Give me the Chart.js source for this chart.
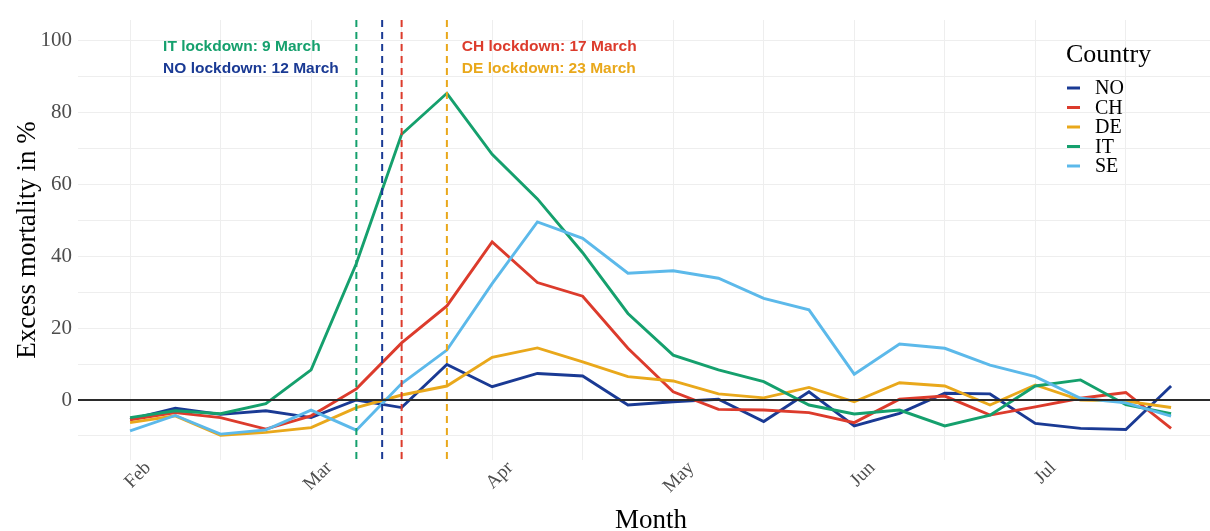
<!DOCTYPE html>
<html>
<head>
<meta charset="utf-8">
<script src="https://cdn.jsdelivr.net/npm/chart.js@4"></script>
<style>
  html, body { margin: 0; padding: 0; background: #fff; }
  #wrap { width: 1210px; height: 531px; position: relative; }
</style>
</head>
<body>
<div id="wrap"><canvas id="chart" width="1210" height="531"></canvas></div>
<script>
// week index since start of February (one point per week)
const weeks = [0, 1, 2, 3, 4, 5, 6, 7, 8, 9, 10, 11, 12, 13, 14, 15, 16, 17, 18, 19, 20, 21, 22, 23]

const noValues = [-5.4, -2.3, -4.0, -3.0, -4.9, 0.0, -2.1, 9.9, 3.7, 7.4, 6.7, -1.4, -0.5, 0.2, -6.0, 2.3, -7.2, -3.7, 1.9, 1.7, -6.5, -7.9, -8.2, 3.9]
const chValues = [-5.5, -3.5, -4.9, -8.1, -4.4, 3.1, 15.9, 26.2, 44.0, 32.7, 28.9, 14.4, 2.3, -2.6, -2.8, -3.5, -6.3, 0.2, 1.1, -4.2, -1.9, 0.5, 2.1, -7.9]
const deValues = [-6.3, -4.4, -9.8, -9.0, -7.7, -2.1, 1.4, 3.9, 11.9, 14.5, 10.6, 6.5, 5.3, 1.7, 0.6, 3.5, -0.5, 4.8, 3.9, -1.4, 4.2, 0.0, -0.3, -2.1]
const itValues = [-4.9, -3.0, -3.8, -1.0, 8.4, 38.0, 74.0, 85.4, 68.4, 56.0, 41.0, 24.1, 12.5, 8.4, 5.1, -1.4, -3.9, -2.8, -7.2, -4.2, 3.9, 5.6, -1.3, -3.8]
const seValues = [-8.6, -4.3, -9.5, -8.3, -2.8, -8.4, 4.6, 13.9, 32.4, 49.6, 45.0, 35.3, 36.0, 33.9, 28.3, 25.1, 7.2, 15.6, 14.4, 9.7, 6.5, 0.5, -0.8, -4.5]

const countries = ["NO", "CH", "DE", "IT", "SE"]
const countryColors = ["#1a3a94", "#dc3b2c", "#e9a81b", "#15a06d", "#5cb9ea"]

const monthTicks = [0, 4, 8, 12, 16, 20]
const monthNames = ["Feb", "Mar", "Apr", "May", "Jun", "Jul"]

// lockdown dates, in the same week units
const lockdownCountries = ["IT", "NO", "CH", "DE"]
const lockdownWeeks = [5.0, 5.57, 6.0, 7.0]
const lockdownLabels = ["IT lockdown: 9 March", "NO lockdown: 12 March", "CH lockdown: 17 March", "DE lockdown: 23 March"]
const lockdownLabelX = [0.73, 0.73, 7.33, 7.33]
const lockdownLabelY = [98.3, 92.2, 98.3, 92.2]

const serif = "'Liberation Serif', 'DejaVu Serif', serif"
const sans = "'Liberation Sans', Arial, sans-serif"

function colorOf(country) {
  return countryColors[countries.indexOf(country)]
}

function buildDatasets() {
  const series = [noValues, chValues, deValues, itValues, seValues]
  return countries.map((c, i) => ({
    label: c,
    data: weeks.map((w, j) => ({ x: w, y: series[i][j] })),
    borderColor: countryColors[i],
    backgroundColor: countryColors[i],
    borderWidth: 2.9,
    pointRadius: 0,
    tension: 0,
    order: countries.length - i
  }))
}

const overlayPlugin = {
  id: "overlay",
  afterDatasetsDraw(chart) {
    const ctx = chart.ctx
    const area = chart.chartArea
    const xs = chart.scales.x
    const ys = chart.scales.y
    ctx.save()

    // zero line
    const y0 = ys.getPixelForValue(0)
    ctx.strokeStyle = "#2b2b2b"
    ctx.lineWidth = 2
    ctx.beginPath()
    ctx.moveTo(area.left, y0)
    ctx.lineTo(area.right, y0)
    ctx.stroke()

    // lockdown lines
    ctx.lineWidth = 2
    ctx.setLineDash([7, 5])
    lockdownWeeks.forEach((w, i) => {
      const x = xs.getPixelForValue(w)
      ctx.strokeStyle = colorOf(lockdownCountries[i])
      ctx.beginPath()
      ctx.moveTo(x, area.top)
      ctx.lineTo(x, area.bottom)
      ctx.stroke()
    })
    ctx.setLineDash([])

    // lockdown labels
    ctx.font = "bold 15.5px " + sans
    ctx.textAlign = "left"
    ctx.textBaseline = "middle"
    lockdownLabels.forEach((txt, i) => {
      ctx.fillStyle = colorOf(lockdownCountries[i])
      ctx.fillText(txt, xs.getPixelForValue(lockdownLabelX[i]), ys.getPixelForValue(lockdownLabelY[i]))
    })

    // legend
    ctx.fillStyle = "#000"
    ctx.font = "26px " + serif
    ctx.fillText("Country", 1066, 55)
    ctx.font = "20px " + serif
    countries.forEach((c, i) => {
      const y = 88 + i * 19.5
      ctx.strokeStyle = countryColors[i]
      ctx.lineWidth = 3
      ctx.beginPath()
      ctx.moveTo(1067, y)
      ctx.lineTo(1080, y)
      ctx.stroke()
      ctx.fillStyle = "#000"
      ctx.fillText(c, 1095, y + 1)
    })

    // axis titles
    ctx.font = "27px " + serif
    ctx.textAlign = "center"
    ctx.fillText("Month", 651, 521)
    ctx.translate(28, (area.top + area.bottom) / 2)
    ctx.rotate(-Math.PI / 2)
    ctx.fillText("Excess mortality in %", 0, 0)
    ctx.restore()
  }
}

new Chart(document.getElementById("chart"), {
  type: "line",
  data: { datasets: buildDatasets() },
  options: {
    responsive: false,
    animation: false,
    devicePixelRatio: 1,
    layout: { padding: { top: 20, right: 0, left: 0, bottom: 0 } },
    plugins: {
      legend: { display: false },
      tooltip: { enabled: false }
    },
    scales: {
      x: {
        type: "linear",
        min: -1.15,
        max: 23.86,
        afterFit: s => { s.height = 71 },
        afterBuildTicks: s => { s.ticks = [0, 2, 4, 6, 8, 10, 12, 14, 16, 18, 20, 22].map(v => ({ value: v })) },
        border: { display: false },
        grid: { color: "#eeeeee", lineWidth: 1, drawTicks: false },
        ticks: {
          autoSkip: false,
          minRotation: 45,
          maxRotation: 45,
          padding: -3,
          labelOffset: 18,
          color: "#4d4d4d",
          font: { family: serif, size: 19 },
          callback: v => monthTicks.includes(v) ? monthNames[monthTicks.indexOf(v)] : ""
        }
      },
      y: {
        min: -16.7,
        max: 105.8,
        afterFit: s => { s.width = 78 },
        afterBuildTicks: s => { s.ticks = [-10, 0, 10, 20, 30, 40, 50, 60, 70, 80, 90, 100].map(v => ({ value: v })) },
        border: { display: false },
        grid: { color: "#eeeeee", lineWidth: 1, drawTicks: false },
        ticks: {
          padding: 6,
          color: "#4d4d4d",
          font: { family: serif, size: 21 },
          callback: v => (v >= 0 && v % 20 === 0) ? String(v) : ""
        }
      }
    }
  },
  plugins: [overlayPlugin]
})
</script>
</body>
</html>
